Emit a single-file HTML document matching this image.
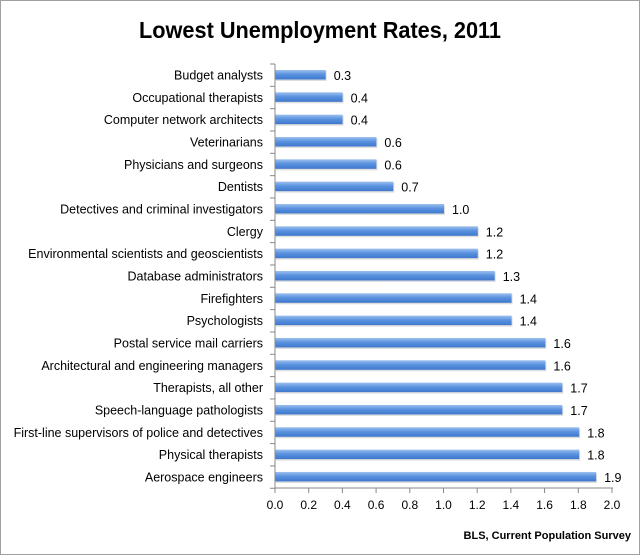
<!DOCTYPE html>
<html><head><meta charset="utf-8"><style>
body{margin:0;background:#fff}
svg{display:block;font-family:"Liberation Sans",sans-serif}
</style></head><body>
<svg width="640" height="555" viewBox="0 0 640 555" xmlns="http://www.w3.org/2000/svg">
<defs>
<linearGradient id="g" x1="0" y1="0" x2="0" y2="1">
<stop offset="0" stop-color="#9cc0ee"/><stop offset="0.45" stop-color="#5b93e0"/><stop offset="1" stop-color="#3f78cc"/>
</linearGradient>
</defs>
<rect x="0.5" y="0.5" width="639" height="554" fill="#fff" stroke="#a0a0a0"/>
<text x="320" y="38" text-anchor="middle" font-size="23" font-weight="bold" textLength="362" lengthAdjust="spacingAndGlyphs">Lowest Unemployment Rates, 2011</text>
<g id="bars" font-size="12" fill="#000"></g>
<line x1="275" y1="64" x2="275" y2="488" stroke="#888"/>
<line x1="275" y1="488" x2="613" y2="488" stroke="#888"/>
<g id="ticks" stroke="#888"></g>
<g id="xl" font-size="12" text-anchor="middle"></g>
<text x="631" y="539" text-anchor="end" font-size="11" font-weight="bold">BLS, Current Population Survey</text>
<script>
var d=[["Budget analysts",0.3],["Occupational therapists",0.4],["Computer network architects",0.4],["Veterinarians",0.6],["Physicians and surgeons",0.6],["Dentists",0.7],["Detectives and criminal investigators",1.0],["Clergy",1.2],["Environmental scientists and geoscientists",1.2],["Database administrators",1.3],["Firefighters",1.4],["Psychologists",1.4],["Postal service mail carriers",1.6],["Architectural and engineering managers",1.6],["Therapists, all other",1.7],["Speech-language pathologists",1.7],["First-line supervisors of police and detectives",1.8],["Physical therapists",1.8],["Aerospace engineers",1.9]];
var ns="http://www.w3.org/2000/svg",b=document.getElementById("bars"),t=document.getElementById("ticks"),xl=document.getElementById("xl");
function el(p,n,a,tx){var e=document.createElementNS(ns,n);for(var k in a)e.setAttribute(k,a[k]);if(tx!=null)e.textContent=tx;p.appendChild(e);return e;}
var s=169;
d.forEach(function(r,i){var cy=75+22.33*i,w=r[1]*s;
el(b,"rect",{x:276,y:cy-4,width:w,height:10,fill:"#c8c8c8",opacity:0.6});
el(b,"rect",{x:275,y:cy-5,width:w,height:9.5,fill:"url(#g)"});
el(b,"text",{x:263,y:cy+4.5,"text-anchor":"end","font-size":"12.5"},r[0]);
el(b,"text",{x:275+w+8,y:cy+5,"font-size":"12.5"},r[1].toFixed(1));
});
for(var i=0;i<=19;i++){var y=64+22.33*i;el(t,"line",{x1:270,y1:y,x2:275,y2:y});}
for(var i=0;i<=10;i++){var x=275+i*0.2*s*0.997;el(t,"line",{x1:x,y1:488,x2:x,y2:493});el(xl,"text",{x:x,y:509},(i*0.2).toFixed(1));}
</script>
</svg>
</body></html>
